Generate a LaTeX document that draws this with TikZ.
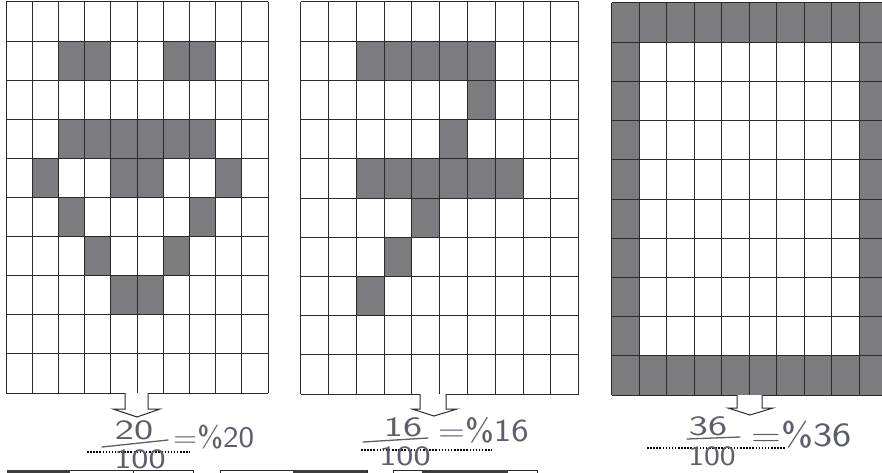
\documentclass[tikz,border=0pt]{standalone}
\definecolor{cellgray}{RGB}{124,124,128}
\definecolor{gridline}{RGB}{42,42,42}
\definecolor{pencil}{RGB}{92,94,108}
\definecolor{darkbox}{RGB}{60,60,62}
\tikzset{
  cell/.style={fill=cellgray, draw=none},
  gridl/.style={draw=gridline, line width=1pt},
  blockarrow/.style={draw=gridline, line width=1pt, fill=white, line join=miter},
  hand/.style={text=pencil, font=\sffamily\fontsize{28}{28}\selectfont, inner sep=0pt},
  fracbar/.style={draw=pencil, line width=1.3pt, line cap=round},
  dotline/.style={draw=black, line width=2pt, dash pattern=on 1.5pt off 1.6pt},
  strip/.style={draw=gridline, line width=0.8pt, fill=white},
}
\begin{document}
\begin{tikzpicture}[x=1pt,y=-1pt]
\useasboundingbox (0,0) rectangle (882,473);
\fill[white] (0,0) rectangle (882,473);
\begin{scope}
\clip (0,0) rectangle (882,473);
% ---------- grid 1 (smiley, 20 cells)
\foreach \r/\c in {1/2,1/3,1/6,1/7,3/2,3/3,3/4,3/5,3/6,3/7,4/1,4/4,4/5,4/8,5/2,5/7,6/3,6/6,7/4,7/5}
  \fill[cell] ({6+\c*26.2},{2+\r*39.1}) rectangle ++(26.2,39.1);
\foreach \i in {0,...,10} {
  \draw[gridl] ({6+\i*26.2},2) -- ({6+\i*26.2},393);
  \draw[gridl] (6,{2+\i*39.1}) -- (268,{2+\i*39.1});
}
% ---------- grid 2 (question mark, 16 cells)
\foreach \r/\c in {1/2,1/3,1/4,1/5,1/6,2/6,3/5,4/2,4/3,4/4,4/5,4/6,4/7,5/4,6/3,7/2}
  \fill[cell] ({300.7+\c*27.8},{2+\r*39.2}) rectangle ++(27.8,39.2);
\foreach \i in {0,...,10} {
  \draw[gridl] ({300.7+\i*27.8},2) -- ({300.7+\i*27.8},394);
  \draw[gridl] (300.7,{2+\i*39.2}) -- (578.7,{2+\i*39.2});
}
% ---------- grid 3 (border, 36 cells)
\fill[cellgray] (611.7,3) rectangle (886.7,395);
\fill[white] (639.2,42.2) rectangle (859.2,355.8);
\foreach \i in {0,...,10} {
  \draw[gridl] ({611.7+\i*27.5},3) -- ({611.7+\i*27.5},395);
  \draw[gridl] (611.7,{3+\i*39.2}) -- (886.7,{3+\i*39.2});
}
% ---------- bottom strip (partly visible boxes)
\draw[strip] (7,470) rectangle (193,480);
\fill[darkbox] (7,470) rectangle (70,480);
\draw[gridline, line width=0.8pt] (133,470) -- (133,480);
\draw[strip] (220,470) rectangle (367,480);
\fill[darkbox] (293,470) rectangle (367,480);
\draw[strip] (393,470) rectangle (537,480);
\fill[darkbox] (422,470) rectangle (508,480);
\end{scope}
% ---------- block arrows
\draw[blockarrow] (125,393) -- (125,409) -- (113,409) -- (137,417) -- (160,409) -- (148,409) -- (148,393);
\draw[blockarrow] (420,394) -- (420,409) -- (412,409) -- (434,416) -- (457,409) -- (446,409) -- (446,394);
\draw[blockarrow] (737,395) -- (737,408) -- (728,408) -- (750,415) -- (773,408) -- (762,408) -- (762,395);
% ---------- answer 1
\draw[dotline] (87,451.7) -- (190,451.7);
\node[hand, xscale=1.45] (n1) at (134,430) {20};
\draw[fracbar] (102,447) -- (168,440);
\node[hand, xscale=1.3] (d1) at (140,459) {100};
\node[hand, xscale=1.1, font=\sffamily\fontsize{30}{30}\selectfont, anchor=west] (p1) at (173,437) {=\%20};
% ---------- answer 2
\draw[dotline] (361,450) -- (492,450);
\node[hand, xscale=1.45] (n2) at (403,427) {16};
\node[hand, xscale=1.3] (d2) at (405,456) {100};
\draw[fracbar] (363,442) -- (428,438);
\node[hand, xscale=1.15, font=\sffamily\fontsize{32}{32}\selectfont, anchor=west] (p2) at (438,430) {=\%16};
% ---------- answer 3
\draw[dotline] (647,448.3) -- (785,448.3);
\node[hand, xscale=1.45] (n3) at (708,426) {36};
\node[hand, xscale=1.2] (d3) at (712,456) {100};
\draw[fracbar] (687,439) -- (740,437);
\node[hand, xscale=1.2, font=\sffamily\fontsize{34}{34}\selectfont, anchor=west] (p3) at (751,435) {=\%36};
\end{tikzpicture}
\end{document}
